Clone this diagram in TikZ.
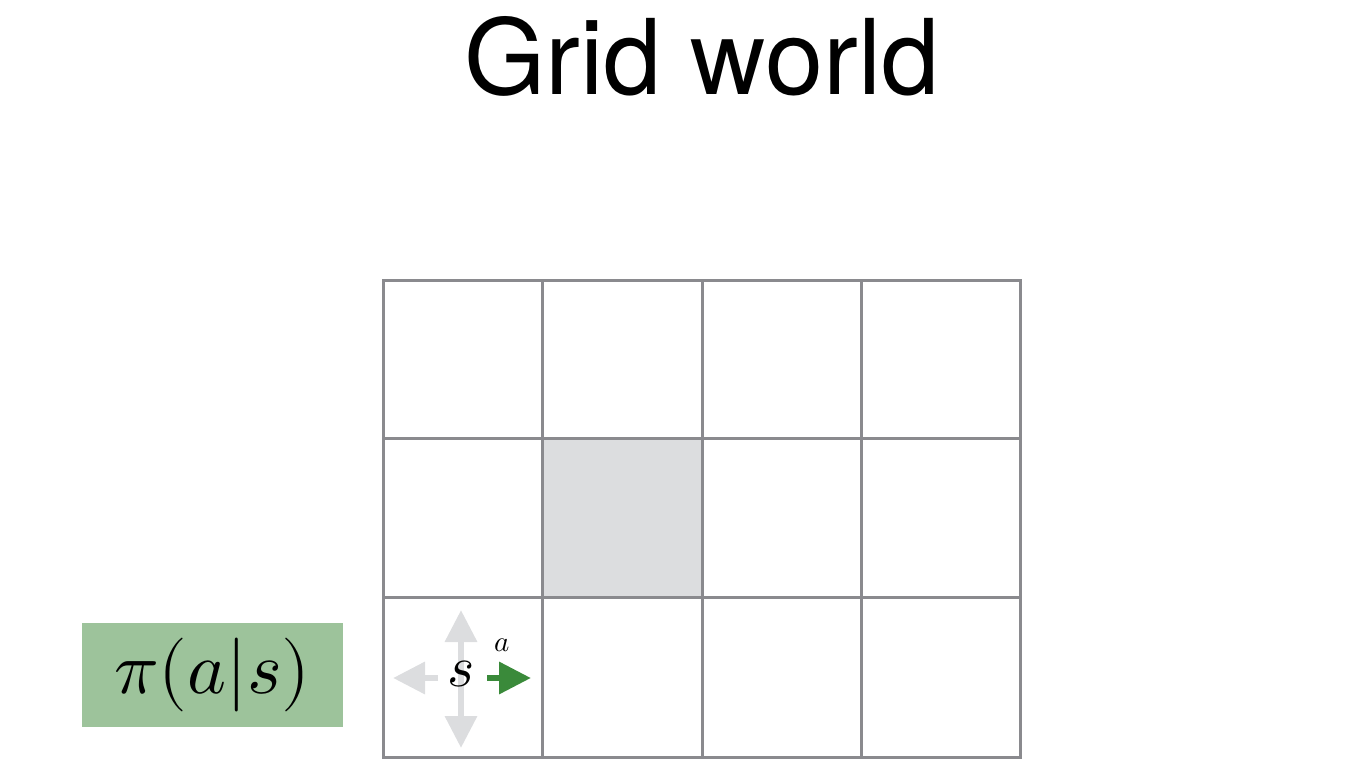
\documentclass[tikz,border=0pt]{standalone}
\usepackage{fontspec}
\setmainfont{TeX Gyre Heros}
\usepackage{unicode-math}
\setmathfont{Latin Modern Math}
\usetikzlibrary{arrows.meta}
\definecolor{gridline}{HTML}{8A8A8E}
\definecolor{cellgray}{HTML}{DCDDDF}
\definecolor{lightarrow}{HTML}{DCDDDF}
\definecolor{greenarrow}{HTML}{3A8A3A}
\definecolor{policybg}{HTML}{9DC39B}
\tikzset{
  gridstroke/.style={draw=gridline, line width=3pt},
  movearrow/.style={line width=6.5pt, -{Triangle[length=32pt,width=31pt]}},
  twoarrow/.style={line width=6.5pt, {Triangle[length=32pt,width=31pt]}-{Triangle[length=32pt,width=31pt]}},
}
\begin{document}
\begin{tikzpicture}[x=1pt,y=-1pt]
\useasboundingbox (0,0) rectangle (1368,784);
% title
\node[anchor=base, inner sep=0pt, font=\fontsize{104.5}{112}\selectfont] (title) at (702,95) {Grid world};
% gray cell
\fill[cellgray] (542,438.5) rectangle (702,597);
% grid
\draw[gridstroke] (383.5,280) rectangle (1020,757);
\draw[gridstroke] (542,280) -- (542,757);
\draw[gridstroke] (702,280) -- (702,757);
\draw[gridstroke] (861,280) -- (861,757);
\draw[gridstroke] (383.5,438.5) -- (1020,438.5);
\draw[gridstroke] (383.5,597) -- (1020,597);
% arrows
\coordinate (upT) at (461,610);
\coordinate (dnT) at (461,748);
\coordinate (lfT) at (393,678);
\coordinate (lfS) at (438,678);
\coordinate (rtS) at (487,678);
\coordinate (rtT) at (531,678);
\draw[twoarrow, lightarrow] (upT) -- (dnT);
\draw[movearrow, lightarrow] (lfS) -- (lfT);
\draw[movearrow, greenarrow] (rtS) -- (rtT);
\node[inner sep=0pt, font=\fontsize{58}{64}\selectfont] (s) at (461,674) {$s$};
\node[inner sep=0pt, font=\fontsize{29}{32}\selectfont] (a) at (502,645) {$a$};
% policy box
\node[fill=policybg, minimum width=261pt, minimum height=104pt, inner sep=0pt, font=\fontsize{74}{80}\selectfont] (pi) at (212.5,675) {$\pi(a|s)$};
\end{tikzpicture}
\end{document}
